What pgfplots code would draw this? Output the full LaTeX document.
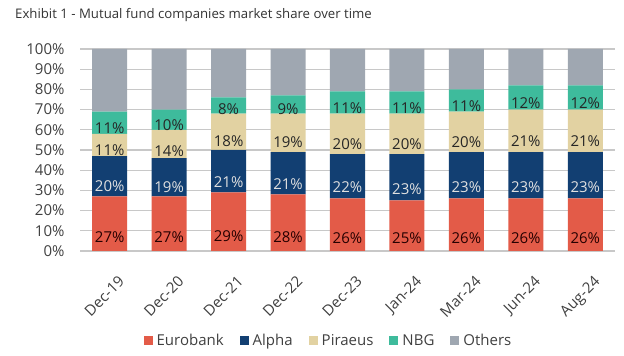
\documentclass[border=0pt]{standalone}
\usepackage{fontspec}
\setmainfont{Open Sans}
\usepackage{pgfplots}
\pgfplotsset{compat=1.18}
\definecolor{cEuro}{HTML}{E35B48}
\definecolor{cAlpha}{HTML}{123F72}
\definecolor{cPir}{HTML}{E2D2A2}
\definecolor{cNBG}{HTML}{3EBB9C}
\definecolor{cOth}{HTML}{9FA7B1}
\definecolor{cGrid}{HTML}{C8C8C8}
\definecolor{cTxt}{HTML}{404040}
\definecolor{cTitle}{HTML}{333333}
\pgfplotsset{
  calc offset/.code={%
    \pgfkeys{/pgf/fpu=true,/pgf/fpu/output format=fixed}%
    \pgfmathsetmacro\myoff{\pgfplotspointmeta*0.505}%
    \pgfkeys{/pgf/fpu=false}%
  }
}
\pgfplotstableread{
x eur alpha pir nbg oth
0 27 20 11 11 31
1 27 19 14 10 30
2 29 21 18 8 24
3 28 21 19 9 23
4 26 22 20 11 21
5 25 23 20 11 21
6 26 23 20 11 20
7 26 23 21 12 18
8 26 23 21 12 18
}\datatable
\begin{document}
\begin{tikzpicture}[x=1pt,y=1pt]
\useasboundingbox (0,0) rectangle (624,356);
\node[anchor=west, inner sep=0pt, font=\fontsize{13.2}{15}\selectfont, text=cTitle] at (15,341) {Exhibit 1 - Mutual fund companies market share over time};
\begin{axis}[
  at={(80pt,105pt)}, anchor=south west,
  scale only axis, width=535pt, height=202pt,
  ybar stacked, bar width=35pt,
  xmin=-0.5, xmax=8.5, ymin=0, ymax=100,
  xtick={0,...,8},
  xticklabels={Dec-19,Dec-20,Dec-21,Dec-22,Dec-23,Jan-24,Mar-24,Jun-24,Aug-24},
  ytick={0,10,...,100},
  yticklabel={\pgfmathprintnumber{\tick}\%},
  /pgf/number format/assume math mode=true,
  ymajorgrids, grid style={draw=cGrid, line width=1.2pt},
  axis line style={draw=none},
  major tick length=0pt,
  tick label style={font=\fontsize{15}{17}\selectfont, text=cTxt},
  yticklabel style={xshift=-12pt},
  xticklabel style={rotate=45, anchor=north east, xshift=-8pt, yshift=-19pt},
  point meta=rawy,
  nodes near coords={\pgfmathprintnumber[fixed,precision=0]{\pgfplotspointmeta}\%},
  nodes near coords align=center,
  every node near coord/.append style={anchor=center, /pgfplots/calc offset, yshift=-\myoff pt, font=\fontsize{15}{17}\selectfont},
  legend columns=5,
  legend style={at={(0.4626,-0.4455)}, anchor=center, draw=none, fill=none,
    font=\fontsize{15}{17}\selectfont, text=cTxt,
    /tikz/every odd column/.append style={column sep=4pt},
    /tikz/every even column/.append style={column sep=16pt},
    nodes={inner xsep=0pt}},
  legend image code/.code={\fill[#1,draw=none] (0pt,-4.5pt) rectangle (9pt,4.5pt);},
]
\addplot[fill=cEuro, draw=none, every node near coord/.append style={text=black!85!red}] table[x=x,y=eur] {\datatable};
\addlegendentry{Eurobank}
\addplot[fill=cAlpha, draw=none, every node near coord/.append style={text=white!88!black}] table[x=x,y=alpha] {\datatable};
\addlegendentry{Alpha}
\addplot[fill=cPir, draw=none, every node near coord/.append style={text=black!85}] table[x=x,y=pir] {\datatable};
\addlegendentry{Piraeus}
\addplot[fill=cNBG, draw=none, every node near coord/.append style={text=black!85}] table[x=x,y=nbg] {\datatable};
\addlegendentry{NBG}
\addplot[fill=cOth, draw=none, nodes near coords={}] table[x=x,y=oth] {\datatable};
\addlegendentry{Others}
\end{axis}
\end{tikzpicture}
\end{document}
